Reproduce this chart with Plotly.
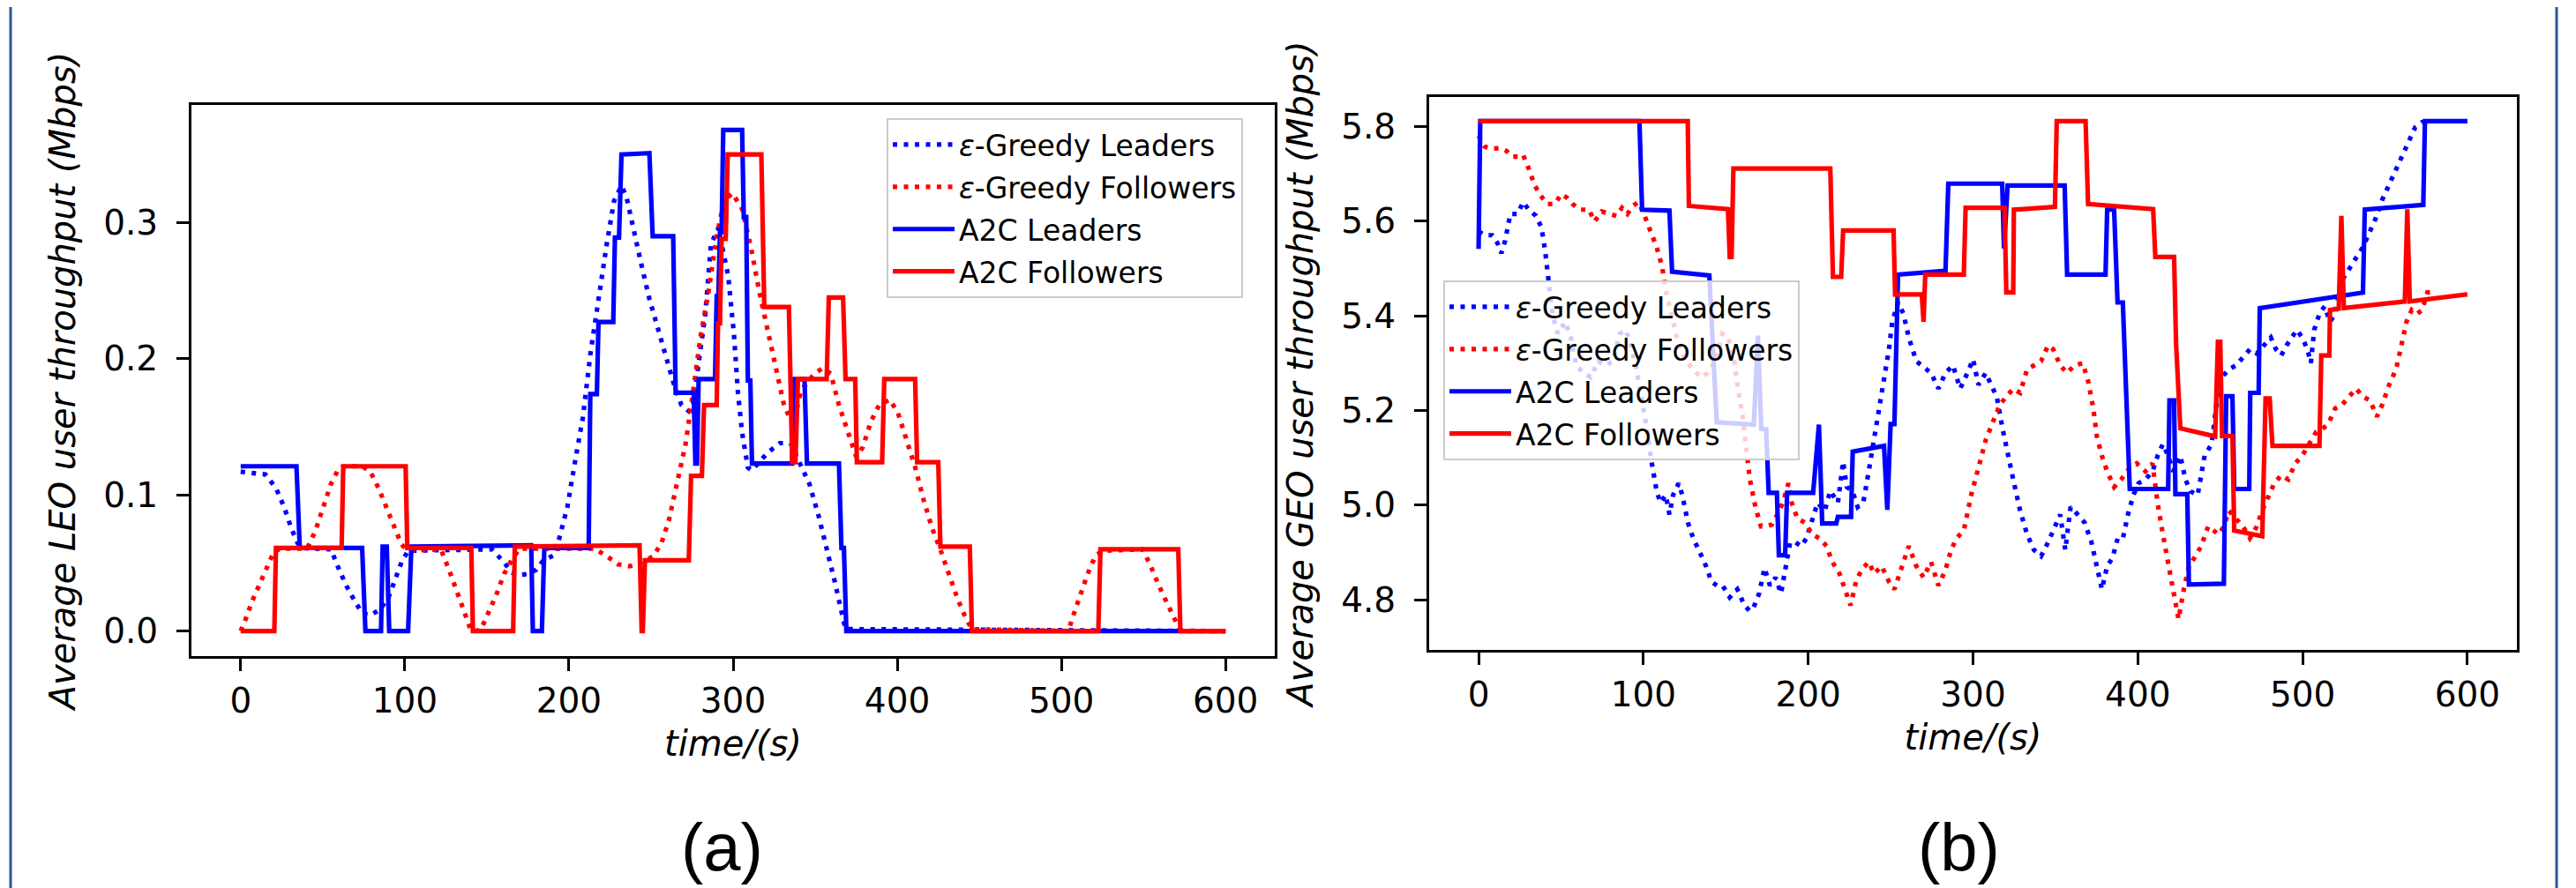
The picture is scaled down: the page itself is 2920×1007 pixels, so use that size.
import plotly.graph_objects as go

W, H = 2920, 1007

# ---------------- data : panel (a) LEO ----------------
a_greedy_leaders = [
    (0, 0.117), (15, 0.115), (21.5, 0.105), (26.5, 0.091), (31, 0.075), (34.5, 0.065), (37, 0.061),
    (55, 0.060), (60, 0.045), (64.5, 0.033), (69.5, 0.022), (74, 0.013), (79, 0.0115), (85, 0.016),
    (90, 0.0245), (94.5, 0.039), (98, 0.0505), (102, 0.059), (153, 0.060), (160.5, 0.0505), (165, 0.043),
    (170, 0.041), (175, 0.042), (180, 0.045), (184.5, 0.052), (191.5, 0.056), (194, 0.068), (199, 0.091),
    (203.5, 0.123), (208.5, 0.157), (213, 0.203), (218, 0.244), (223, 0.284), (227.5, 0.316), (232, 0.327),
    (235, 0.319), (239.5, 0.293), (244.5, 0.267), (249, 0.244), (254, 0.2235), (259, 0.203), (263.5, 0.183),
    (268.5, 0.166), (273, 0.1615), (275.5, 0.166), (278, 0.189), (283, 0.232), (286.5, 0.284), (291, 0.296),
    (297, 0.261), (300.5, 0.218), (303, 0.1745), (305.5, 0.1456), (309, 0.120), (311.5, 0.118), (321, 0.131),
    (328.5, 0.138), (335, 0.138), (339, 0.128), (346.5, 0.108), (352, 0.085), (357, 0.062), (362, 0.036),
    (366, 0.0144), (368.5, 0.0014), (600, 0.0),
]
a_greedy_followers = [
    (0, 0.0), (2.5, 0.007), (7, 0.022), (12, 0.036), (17, 0.049), (20.5, 0.059), (26, 0.0606), (40.5, 0.0606),
    (45.5, 0.0735), (50.5, 0.091), (55, 0.108), (60, 0.120), (64.5, 0.121), (74, 0.121), (79, 0.117), (84, 0.105),
    (88.5, 0.091), (93.5, 0.0764), (98, 0.0635), (102, 0.059), (122, 0.060), (127, 0.0447), (132, 0.0274),
    (136.5, 0.0115), (140, 0.0014), (146, 0.0), (151, 0.013), (156, 0.0274), (160.5, 0.042), (165.5, 0.053),
    (170, 0.0606), (215.5, 0.0606), (223, 0.055), (230, 0.049), (237, 0.0476), (244.5, 0.0505), (251.5, 0.055),
    (256.5, 0.065), (261, 0.082), (266, 0.108), (271, 0.137), (275.5, 0.1745), (280, 0.215), (285, 0.249),
    (290, 0.290), (294.5, 0.316), (299.5, 0.3216), (305.5, 0.310), (311, 0.281), (316, 0.249), (321, 0.220),
    (326, 0.192), (331, 0.166), (336.5, 0.151), (341.5, 0.177), (349.5, 0.189), (354.5, 0.193), (359.5, 0.189),
    (364.5, 0.166), (370, 0.146), (375, 0.128), (379, 0.135), (384, 0.154), (389, 0.166), (395.5, 0.170),
    (400.5, 0.160), (405.5, 0.140), (411, 0.120), (416, 0.0966), (421, 0.0764), (426.5, 0.059), (431.5, 0.042),
    (436.5, 0.0245), (441.5, 0.0101), (445.5, 0.0014), (504.5, 0.0), (506, 0.007), (511, 0.0245), (516, 0.042),
    (521, 0.056), (526.5, 0.059), (549.5, 0.060), (554.5, 0.0476), (559.5, 0.033), (565, 0.0188), (570, 0.007),
    (572.5, 0.0), (600, 0.0),
]
a_a2c_leaders = [
    (0, 0.121), (34, 0.121), (36, 0.061), (74, 0.061), (76, 0.0), (85.5, 0.0), (86.5, 0.062), (89, 0.062),
    (90.5, 0.0), (102, 0.0), (104, 0.062), (177, 0.063), (178, 0.0), (183.5, 0.0), (185, 0.061), (212, 0.061),
    (213, 0.174), (217, 0.174), (218, 0.227), (227, 0.227), (228, 0.289), (230.5, 0.289), (232, 0.350),
    (249, 0.351), (251, 0.290), (263.5, 0.290), (265, 0.175), (276, 0.175), (277, 0.123), (278, 0.123),
    (279, 0.185), (289, 0.185), (290, 0.246), (291, 0.246), (292, 0.293), (293, 0.293), (294, 0.368),
    (305.5, 0.368), (306.5, 0.304), (308, 0.304), (309, 0.184), (310.5, 0.184), (311.5, 0.123), (336, 0.123),
    (337.5, 0.185), (343.5, 0.185), (345, 0.123), (364.5, 0.123), (366, 0.061), (367.5, 0.061), (369, 0.0),
    (600, 0.0),
]
a_a2c_followers = [
    (0, 0.0), (20.5, 0.0), (21.5, 0.061), (61.5, 0.061), (62.5, 0.121), (100.5, 0.121), (101.5, 0.061),
    (140.5, 0.061), (141.5, 0.0), (166, 0.0), (167, 0.062), (243, 0.063), (244.3, 0.0), (245, 0.0),
    (246.3, 0.052), (273, 0.052), (274.4, 0.114), (281, 0.114), (282.3, 0.166), (290, 0.166), (290.8, 0.226),
    (292, 0.226), (293, 0.288), (295.5, 0.288), (296.7, 0.350), (317.2, 0.350), (319, 0.238), (334, 0.238),
    (336, 0.124), (338, 0.124), (339.5, 0.185), (357, 0.185), (358.3, 0.245), (367, 0.245), (368.5, 0.185),
    (374.4, 0.185), (375.4, 0.124), (390.8, 0.124), (392.1, 0.185), (410.9, 0.185), (412.1, 0.124),
    (425, 0.124), (426.3, 0.062), (444.2, 0.062), (445.5, 0.0), (522.5, 0.0), (523.8, 0.060), (571.2, 0.060),
    (572.5, 0.0), (600, 0.0),
]

# ---------------- data : panel (b) GEO ----------------
b_greedy_leaders = [
    (0, 5.578), (3.8, 5.570), (8.2, 5.570), (11.5, 5.553), (13.8, 5.532), (16, 5.557), (19.3, 5.615),
    (23.7, 5.615), (27, 5.640), (30.4, 5.624), (34.8, 5.611), (38.2, 5.586), (40.4, 5.536), (42.6, 5.470),
    (44.8, 5.403), (48, 5.362), (52.6, 5.387), (56, 5.354), (59.2, 5.295), (63.7, 5.279), (68, 5.270),
    (72.6, 5.304), (77, 5.295), (81.4, 5.304), (85.8, 5.362), (89.2, 5.370), (92.5, 5.337), (95.8, 5.287),
    (99.2, 5.220), (102.5, 5.154), (104.7, 5.096), (108, 5.030), (110.3, 5.005), (113.6, 5.021), (115.8, 4.980),
    (118, 5.021), (121.4, 5.046), (123.6, 5.021), (127, 4.963), (130.2, 4.930), (133.6, 4.905), (138, 4.871),
    (141.3, 4.838), (144.7, 4.830), (148, 4.830), (152.4, 4.805), (157, 4.822), (161.3, 4.788), (164.6, 4.776),
    (166.9, 4.784), (170.2, 4.813), (173.5, 4.867), (176.8, 4.830), (180.2, 4.847), (183.5, 4.813),
    (186.8, 4.871), (189, 4.921), (192.4, 4.921), (195.7, 4.913), (199, 4.930), (202.4, 4.971), (205.7, 5.005),
    (210, 4.988), (213.4, 5.030), (218, 5.005), (221.2, 5.092), (223.4, 5.038), (226.8, 5.030), (230, 4.996),
    (233.4, 5.005), (236.7, 5.071), (240, 5.137), (242.3, 5.187), (245.6, 5.254), (249, 5.329), (251, 5.387),
    (254.5, 5.428), (257.8, 5.404), (261, 5.354), (265.6, 5.304), (270, 5.291), (274.5, 5.279), (279, 5.246),
    (283.3, 5.279), (287.8, 5.295), (292.2, 5.246), (296.6, 5.279), (300, 5.308), (303.3, 5.254),
    (307.7, 5.279), (311, 5.254), (314.4, 5.229), (318, 5.160), (321.2, 5.104), (324.4, 5.054), (328.6, 4.988),
    (332.8, 4.938), (337, 4.905), (341.3, 4.892), (345.5, 4.921), (349.7, 4.955), (352.9, 4.980), (356, 4.905),
    (359.2, 4.996), (363.5, 4.980), (367.7, 4.963), (371.9, 4.921), (375, 4.871), (378.2, 4.822), (381.4, 4.871),
    (384.6, 4.888), (387.8, 4.930), (391, 4.930), (394, 4.980), (397.3, 5.021), (400.4, 5.046), (404.6, 5.054),
    (408.9, 5.071), (412, 5.104), (415.2, 5.129), (418.4, 5.104), (421.5, 5.071), (425.8, 5.104), (428.9, 5.054),
    (432, 5.029), (436.3, 5.021), (440.5, 5.104), (444.8, 5.129), (448, 5.221), (451, 5.270), (455.3, 5.287),
    (459.6, 5.295), (463.8, 5.312), (468, 5.329), (472.2, 5.320), (476.5, 5.337), (480.7, 5.354), (483.8, 5.329),
    (487, 5.316), (490.2, 5.337), (493.3, 5.354), (496.5, 5.370), (499.7, 5.354), (502.9, 5.329), (505, 5.300),
    (507, 5.370), (510.2, 5.404), (513.4, 5.420), (516.6, 5.387), (519.7, 5.404), (523, 5.470), (526, 5.487),
    (529.3, 5.507), (533.5, 5.528), (536.6, 5.545), (539.8, 5.570), (544, 5.603), (548.3, 5.645), (552.5, 5.678),
    (556.7, 5.711), (561, 5.744), (565.2, 5.778), (568.3, 5.798), (572.5, 5.809), (578, 5.810),
]
b_greedy_followers = [
    (0, 5.780), (3.8, 5.757), (8.2, 5.753), (12.6, 5.754), (17, 5.748), (20.4, 5.736), (23.7, 5.736),
    (27, 5.740), (30.4, 5.711), (33.7, 5.678), (37, 5.657), (41.5, 5.636), (46, 5.636), (50.4, 5.657),
    (53.7, 5.649), (57, 5.636), (61.5, 5.624), (67, 5.624), (70.3, 5.599), (74.8, 5.620), (79.2, 5.615),
    (83.6, 5.611), (87, 5.628), (90.3, 5.615), (93.6, 5.632), (97, 5.640), (100.3, 5.615), (103.6, 5.586),
    (108, 5.545), (111.4, 5.503), (113.6, 5.453), (117, 5.403), (121.4, 5.337), (125.8, 5.304), (130.2, 5.287),
    (134.7, 5.270), (139, 5.279), (143.6, 5.304), (148, 5.362), (151.3, 5.354), (154.6, 5.320), (157, 5.254),
    (160.2, 5.187), (162.4, 5.121), (164.6, 5.054), (168, 4.996), (171.3, 4.955), (174.6, 4.955), (178, 4.959),
    (181.3, 4.980), (184.6, 5.005), (188, 5.046), (190, 5.005), (193.5, 4.971), (198, 4.963), (202.4, 4.938),
    (206.8, 4.930), (211.2, 4.913), (214.6, 4.880), (219, 4.855), (222.3, 4.822), (225.7, 4.788), (229, 4.838),
    (232.3, 4.863), (236.7, 4.880), (240, 4.855), (244.5, 4.871), (249, 4.838), (252.3, 4.822), (256.7, 4.871),
    (261, 4.913), (265.6, 4.871), (270, 4.847), (274.5, 4.880), (279, 4.830), (283.3, 4.863), (286.7, 4.905),
    (290, 4.930), (294.4, 4.946), (298.9, 5.021), (303.3, 5.079), (307.7, 5.137), (312, 5.175), (316.3, 5.212),
    (320.2, 5.229), (324.4, 5.246), (328.6, 5.237), (332.8, 5.287), (337, 5.295), (341.3, 5.304), (345.5, 5.337),
    (348.7, 5.329), (352.9, 5.295), (357.1, 5.279), (361.4, 5.295), (366.6, 5.300), (369.8, 5.262), (373, 5.204),
    (375.1, 5.146), (378.2, 5.104), (381.4, 5.071), (385.6, 5.038), (389.9, 5.054), (395.1, 5.079), (399.4, 5.088),
    (404.6, 5.071), (408.9, 5.088), (412, 5.004), (415.2, 4.938), (418.4, 4.880), (421.5, 4.822), (424.7, 4.759),
    (427.9, 4.822), (431, 4.871), (434.2, 4.888), (438.4, 4.913), (442.7, 4.955), (445.8, 4.946), (449, 4.938),
    (452.2, 4.955), (455.3, 4.988), (459.6, 4.971), (463.8, 4.955), (468, 4.930), (472.2, 4.955), (475.4, 4.988),
    (478.6, 5.013), (482.8, 5.046), (487, 5.063), (491.3, 5.054), (495.5, 5.088), (499.7, 5.104), (503.9, 5.129),
    (508.1, 5.154), (512.3, 5.162), (515.5, 5.171), (519.7, 5.204), (524, 5.212), (528.2, 5.229), (532.4, 5.246),
    (536.6, 5.229), (540.9, 5.221), (545.1, 5.187), (548.3, 5.212), (552.5, 5.254), (556.7, 5.287), (559.9, 5.337),
    (563, 5.387), (566.2, 5.412), (569.4, 5.404), (572.5, 5.412), (575.7, 5.449), (577.4, 5.449),
]
b_a2c_leaders = [
    (0, 5.541), (1, 5.811), (97.6, 5.811), (99.2, 5.624), (115.8, 5.622), (117.4, 5.493), (140, 5.485),
    (144.5, 5.175), (167, 5.170), (169.5, 5.358), (171.5, 5.161), (174.5, 5.160), (176, 5.026), (181, 5.026),
    (182.2, 4.894), (186, 4.894), (187.2, 5.026), (203, 5.026), (206.5, 5.170), (208.5, 4.961), (217, 4.961),
    (218, 4.975), (226, 4.975), (227, 5.113), (246, 5.125), (248, 4.990), (250, 5.171), (252.3, 5.171),
    (254.5, 5.487), (283.3, 5.495), (285, 5.679), (317.7, 5.679), (318.8, 5.542), (321, 5.675), (355.6, 5.675),
    (357.1, 5.487), (380.4, 5.487), (381.4, 5.624), (385.6, 5.624), (387.7, 5.428), (390.9, 5.428), (393, 5.233),
    (395.1, 5.034), (418.4, 5.034), (419.2, 5.221), (422, 5.221), (422.8, 5.023), (430, 5.023), (431, 4.832),
    (452.2, 4.834), (453.6, 5.230), (457.4, 5.230), (458.5, 5.034), (467.6, 5.034), (468.2, 5.237), (473.3, 5.237),
    (474, 5.416), (536.6, 5.449), (537.7, 5.624), (573.2, 5.634), (574.2, 5.811), (600, 5.811),
]
b_a2c_followers = [
    (0, 5.811), (126.9, 5.811), (127.6, 5.632), (151.3, 5.625), (152.4, 5.524), (153.5, 5.524), (154.6, 5.711),
    (213.4, 5.711), (215, 5.482), (220, 5.482), (221.2, 5.580), (251.8, 5.580), (252.7, 5.445), (268.9, 5.445),
    (270, 5.387), (271, 5.487), (294.4, 5.487), (295.5, 5.628), (319.1, 5.628), (320.2, 5.449), (324.4, 5.449),
    (324.8, 5.624), (349.7, 5.630), (350.8, 5.811), (368.3, 5.811), (369.8, 5.636), (409.3, 5.625),
    (410.6, 5.524), (422, 5.524), (423.2, 5.341), (425.8, 5.162), (446.9, 5.145), (448.6, 5.345), (450, 5.345),
    (451.1, 5.146), (457.4, 5.146), (458.5, 4.946), (474.3, 4.934), (475.5, 4.934), (477.5, 5.225), (480, 5.225),
    (481.7, 5.125), (510.2, 5.125), (511.3, 5.316), (516.2, 5.316), (516.6, 5.412), (521.9, 5.415), (523.5, 5.611),
    (525, 5.416), (562, 5.430), (563.5, 5.625), (565, 5.430), (600, 5.445),
]

series_names = ["<i>ε</i>-Greedy Leaders", "<i>ε</i>-Greedy Followers", "A2C Leaders", "A2C Followers"]
series_colors = ["#0000ff", "#ff0000", "#0000ff", "#ff0000"]
series_dash = ["5px,7.5px", "5px,7.5px", "solid", "solid"]

x_ticks = [0, 100, 200, 300, 400, 500, 600]
a_y_ticks = [0.0, 0.1, 0.2, 0.3]
b_y_ticks = [4.8, 5.0, 5.2, 5.4, 5.6, 5.8]

a_ylabel = "Average LEO user throughput (Mbps)"
b_ylabel = "Average GEO user throughput (Mbps)"
xlabel = "time/(s)"

# ---------------- figure ----------------
fig = go.Figure()

def add_panel(series, xa, ya, legend):
    for i, pts in enumerate(series):
        fig.add_trace(go.Scatter(
            x=[p[0] for p in pts], y=[p[1] for p in pts], mode="lines",
            name=series_names[i], legend=legend, legendgroup=f"{legend}{i}",
            line=dict(color=series_colors[i], width=5.2, dash=series_dash[i]),
            xaxis=xa, yaxis=ya, hoverinfo="skip",
        ))

add_panel([a_greedy_leaders, a_greedy_followers, a_a2c_leaders, a_a2c_followers], "x", "y", "legend")
add_panel([b_greedy_leaders, b_greedy_followers, b_a2c_leaders, b_a2c_followers], "x2", "y2", "legend2")

FONT = "DejaVu Sans"
tickfont = dict(family=FONT, size=39, color="black")
titlefont = dict(family=FONT, size=40, color="black", style="italic")

def px_dom(a, b, total):
    return [a / total, b / total]

common_axis = dict(showline=True, mirror=True, linecolor="black", linewidth=3, ticks="outside",
                   ticklen=14, tickwidth=2.5, tickcolor="black", showgrid=False, zeroline=False,
                   tickfont=tickfont, automargin=False)

legend_common = dict(xanchor="left", yanchor="top", bgcolor="rgba(255,255,255,0.8)",
                     bordercolor="#cccccc", borderwidth=2, font=dict(family=FONT, size=33, color="black"),
                     itemwidth=70, traceorder="grouped", tracegroupgap=2)

fig.update_layout(
    width=W, height=H, margin=dict(l=0, r=0, t=0, b=0),
    paper_bgcolor="white", plot_bgcolor="white", showlegend=True,
    xaxis=dict(domain=px_dom(209, 1437, W), range=[-30, 630], tickvals=x_ticks,
               title=dict(text=xlabel, font=titlefont, standoff=14), anchor="y", ticklabelstandoff=0, **common_axis),
    yaxis=dict(domain=[1 - 736 / H, 1 - 111 / H], range=[-0.0184, 0.3864], tickvals=a_y_ticks, tickformat=".1f",
               title=dict(text=a_ylabel, font=titlefont, standoff=20), anchor="x", ticklabelstandoff=13, **common_axis),
    xaxis2=dict(domain=px_dom(1612, 2845, W), range=[-30, 630], tickvals=x_ticks,
                title=dict(text=xlabel, font=titlefont, standoff=14), anchor="y2", ticklabelstandoff=0, **common_axis),
    yaxis2=dict(domain=[1 - 729 / H, 1 - 102 / H], range=[4.694, 5.862], tickvals=b_y_ticks, tickformat=".1f",
                title=dict(text=b_ylabel, font=titlefont, standoff=20), anchor="x2", ticklabelstandoff=13, **common_axis),
    legend=dict(x=997 / W, y=1 - 126 / H, **legend_common),
    legend2=dict(x=1628 / W, y=1 - 310 / H, **legend_common),
    annotations=[
        dict(text="(a)", x=810 / W, y=1 - 952 / H, xref="paper", yref="paper", showarrow=False,
             font=dict(family="Liberation Sans", size=76, color="black"), xanchor="center", yanchor="middle"),
        dict(text="(b)", x=2212 / W, y=1 - 952 / H, xref="paper", yref="paper", showarrow=False,
             font=dict(family="Liberation Sans", size=76, color="black"), xanchor="center", yanchor="middle"),
    ],
    shapes=[
        dict(type="line", xref="paper", yref="paper", x0=4 / W, x1=4 / W, y0=0, y1=1,
             line=dict(color="#2f5597", width=3)),
        dict(type="line", xref="paper", yref="paper", x0=2890 / W, x1=2890 / W, y0=0, y1=1,
             line=dict(color="#2f5597", width=3)),
    ],
)

fig.write_html("out.html")
